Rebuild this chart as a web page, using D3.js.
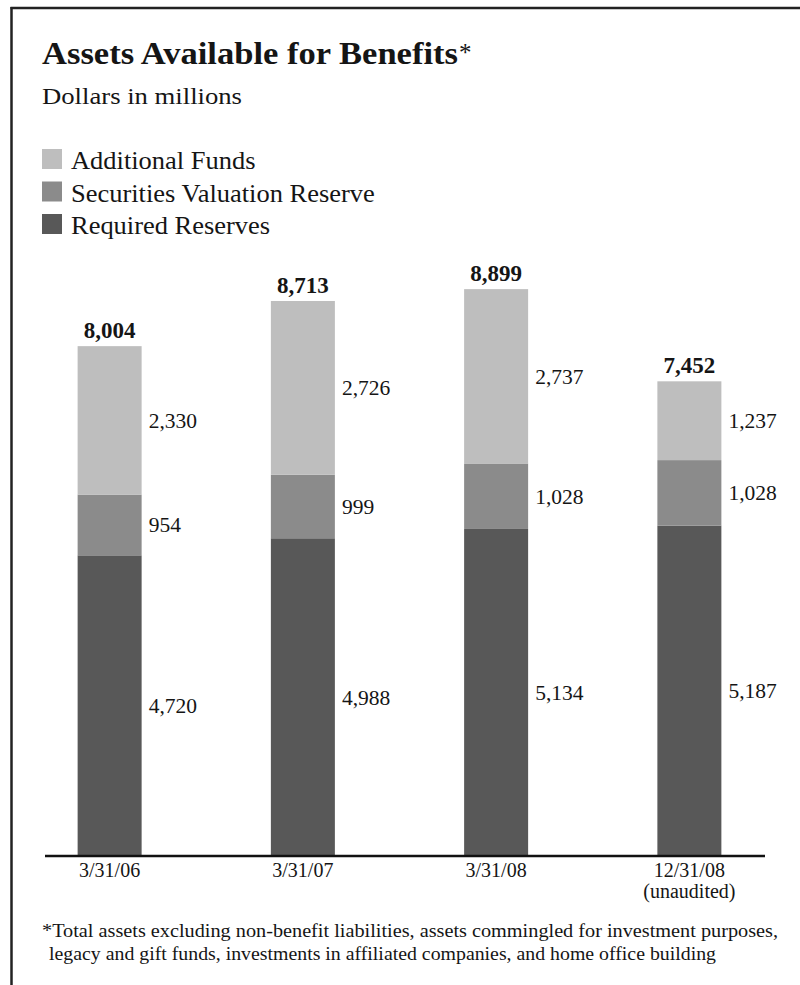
<!DOCTYPE html>
<html><head><meta charset="utf-8">
<script src="https://cdn.jsdelivr.net/npm/d3@7"></script>
<style>body{margin:0;background:#fff}svg{display:block}text{font-family:"Liberation Serif","Times New Roman",serif;fill:#151515}</style>
</head><body>
<script>
const categories = ["3/31/06", "3/31/07", "3/31/08", "12/31/08"];
const categorySubLabels = ["", "", "", "(unaudited)"];
const requiredReserves = [4720, 4988, 5134, 5187];
const securitiesValuationReserve = [954, 999, 1028, 1028];
const additionalFunds = [2330, 2726, 2737, 1237];
const totals = [8004, 8713, 8899, 7452];
const seriesNames = ["Required Reserves", "Securities Valuation Reserve", "Additional Funds"];
const legendOrder = ["Additional Funds", "Securities Valuation Reserve", "Required Reserves"];
const footnoteLines = [
  "*Total assets excluding non-benefit liabilities, assets commingled for investment purposes,",
  "legacy and gift funds, investments in affiliated companies, and home office building"
];

const W = 800, H = 985;
const colors = {"Required Reserves": "#585858", "Securities Valuation Reserve": "#8b8b8b", "Additional Funds": "#bebebe"};

const svg = d3.select("body").append("svg").attr("width", W).attr("height", H);

function stretch(sel, factor) {
  const n = sel.node().getComputedTextLength();
  sel.attr("textLength", n * factor).attr("lengthAdjust", "spacingAndGlyphs");
  return sel;
}

// frame
svg.append("line").attr("x1", 10.5).attr("x2", W).attr("y1", 8).attr("y2", 8).attr("stroke", "#222").attr("stroke-width", 2.5);
svg.append("line").attr("x1", 11.5).attr("x2", 11.5).attr("y1", 7).attr("y2", H).attr("stroke", "#222").attr("stroke-width", 2.5);

// title
const title = svg.append("text").attr("x", 42).attr("y", 64).style("font-size", "31px").style("font-weight", "bold").text("Assets Available for Benefits");
stretch(title, 416 / title.node().getComputedTextLength());
svg.append("text").attr("x", 459).attr("y", 61).style("font-size", "25px").text("*");
const sub = svg.append("text").attr("x", 42).attr("y", 104).style("font-size", "24px").text("Dollars in millions");
stretch(sub, 200 / sub.node().getComputedTextLength());

// legend
const lg = svg.append("g");
legendOrder.forEach((name, i) => {
  const yy = 149 + i * 32.5;
  lg.append("rect").attr("x", 42).attr("y", yy).attr("width", 20).attr("height", 20).attr("fill", colors[name]);
  const tx = lg.append("text").attr("x", 71).attr("y", yy + 20).style("font-size", "24.5px").text(name);
  stretch(tx, 1.08);
});

// scales
const x = d3.scalePoint().domain(categories).range([13, 786]).padding(0.5);
const y = d3.scaleLinear().domain([0, 9000]).range([856, 856 - 9000 * 0.0637]);
const barW = 64;

const rows = categories.map((c, i) => ({cat: c, values: [requiredReserves[i], securitiesValuationReserve[i], additionalFunds[i]], total: totals[i]}));
const stack = d3.stack().keys([0, 1, 2]).value((d, k) => d.values[k]);
const layers = stack(rows);

layers.forEach((layer, k) => {
  const g = svg.append("g");
  layer.forEach((seg, i) => {
    const cx = x(rows[i].cat);
    g.append("rect").attr("x", cx - barW / 2).attr("width", barW)
      .attr("y", y(seg[1])).attr("height", y(seg[0]) - y(seg[1]))
      .attr("fill", colors[seriesNames[k]]);
    g.append("text").attr("x", cx + barW / 2 + 7).attr("y", (y(seg[0]) + y(seg[1])) / 2 + 7.5)
      .style("font-size", "21.5px").text(d3.format(",")(rows[i].values[k]));
  });
});

// totals
rows.forEach(r => {
  svg.append("text").attr("x", x(r.cat)).attr("y", y(r.total) - 8).attr("text-anchor", "middle")
    .style("font-size", "23px").style("font-weight", "bold").text(d3.format(",")(r.total));
});

// axis line
svg.append("line").attr("x1", 45).attr("x2", 765).attr("y1", 856).attr("y2", 856).attr("stroke", "#111").attr("stroke-width", 2.5);

// category labels
categories.forEach((c, i) => {
  svg.append("text").attr("x", x(c)).attr("y", 877).attr("text-anchor", "middle").style("font-size", "20px").text(c);
  if (categorySubLabels[i]) svg.append("text").attr("x", x(c)).attr("y", 898).attr("text-anchor", "middle").style("font-size", "20px").text(categorySubLabels[i]);
});

// footnote
svg.append("text").attr("x", 42).attr("y", 937).style("font-size", "19px").attr("textLength", 736).attr("lengthAdjust", "spacingAndGlyphs").text(footnoteLines[0]);
svg.append("text").attr("x", 49).attr("y", 960).style("font-size", "19px").attr("textLength", 667).attr("lengthAdjust", "spacingAndGlyphs").text(footnoteLines[1]);
</script>
</body></html>
